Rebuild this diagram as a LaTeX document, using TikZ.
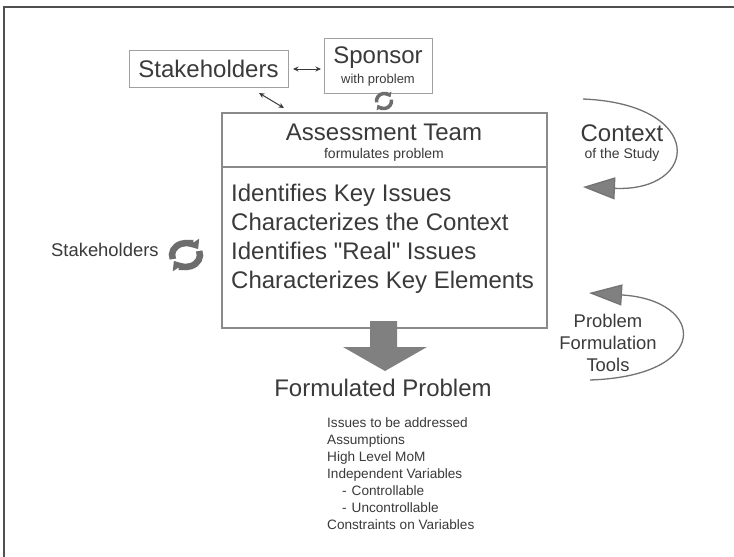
\documentclass[tikz,border=0pt]{standalone}
\usepackage{fontspec}
\setmainfont{Liberation Sans}[Ligatures=TeXOff]
\usetikzlibrary{arrows.meta}
\definecolor{txt}{HTML}{3A3A3A}
\definecolor{boxline}{HTML}{A0A0A0}
\definecolor{teamline}{HTML}{8A8A8A}
\definecolor{fillgray}{HTML}{808080}
\definecolor{frameline}{HTML}{505050}
\tikzset{
  box/.style={draw=boxline, line width=1pt, inner sep=0pt},
  big/.style={font=\fontsize{24}{29}\selectfont, text=txt, inner sep=0pt},
  mid/.style={font=\fontsize{18.4}{22}\selectfont, text=txt, inner sep=0pt},
  small/.style={font=\fontsize{14}{17}\selectfont, text=txt, inner sep=0pt},
  tiny/.style={font=\fontsize{13.6}{17}\selectfont, text=txt, inner sep=0pt},
  dbl/.style={{Stealth[length=5.5pt,width=5pt]}-{Stealth[length=5.5pt,width=5pt]}, line width=1pt, draw=txt},
  loopline/.style={draw=fillgray!90!black, line width=1.3pt},
  cyc/.style={draw=fillgray!85!black, line cap=butt},
}
\begin{document}
\begin{tikzpicture}[x=1pt,y=-1pt]
\useasboundingbox (0,0) rectangle (734,557);
\fill[white] (0,0) rectangle (734,557);
% frame lines
\draw[frameline, line width=2pt] (3,6.5) -- (734,6.5);
\draw[frameline, line width=2pt] (4,6) -- (4,557);

% top boxes
\node[box, minimum width=159pt, minimum height=37pt] (stk) at (208.5,68.5) {};
\node[big] at (stk.center) {Stakeholders};
\node[box, minimum width=108pt, minimum height=55pt] (spo) at (378,65.5) {};
\node[big] at (378,58) {Sponsor};
\node[font=\fontsize{13}{15}\selectfont, text=txt, inner sep=0pt] at (378,80) {with problem};

\coordinate (a1) at (293,69);
\coordinate (a2) at (321,69);
\draw[dbl] (a1) -- (a2);
\coordinate (d1) at (259,93);
\coordinate (d2) at (284,108);
\draw[dbl] (d1) -- (d2);

% small cycle icon under sponsor
\begin{scope}[shift={(384,101)}]
  \draw[cyc, line width=3.5pt, -{Triangle[length=4.5pt,width=7pt]}] (170:7.5) arc (170:330:7.5);
  \draw[cyc, line width=3.5pt, -{Triangle[length=4.5pt,width=7pt]}] (350:7.5) arc (350:510:7.5);
\end{scope}

% assessment team box
\node[draw=teamline, line width=1.2pt, minimum width=325pt, minimum height=215pt, inner sep=0pt] (team) at (384.5,220.5) {};
\draw[teamline, line width=1.2pt] (team.west |- 0,167) -- (team.east |- 0,167);
\node[big] at (384,132) {Assessment Team};
\node[small] at (384,155) {formulates problem};
\node[big, anchor=north west, align=left] (items) at (231,184) {Identifies Key Issues\\Characterizes the Context\\Identifies "Real" Issues\\Characterizes Key Elements};

% big down arrow
\fill[fillgray] (370,321) -- (397,321) -- (397,347) -- (427,347) -- (385,371) -- (343,347) -- (370,347) -- cycle;

% formulated problem
\node[big] (fp) at (383,388) {Formulated Problem};
\node[tiny, anchor=north west, align=left] (list) at (327,417) {Issues to be addressed\\Assumptions\\High Level MoM\\Independent Variables\\\hspace*{15pt}-\hspace{5pt}Controllable\\\hspace*{15pt}-\hspace{5pt}Uncontrollable\\Constraints on Variables};

% context
\node[big] (ctx) at (622,133) {Context};
\node[small] (cts) at (622,155) {of the Study};
\coordinate (c1) at (583,99);
\coordinate (c2) at (583,187);
\draw[loopline, -{Triangle[length=32pt,width=22pt,fill=fillgray]}] (c1) .. controls (706,104) and (700,192) .. (c2);

% problem formulation tools
\node[mid, align=center] (pft) at (608,343) {Problem\\Formulation\\Tools};
\coordinate (p1) at (590,380);
\coordinate (p2) at (589,293);
\draw[loopline, -{Triangle[length=33pt,width=21pt,fill=fillgray]}] (p1) .. controls (712,376) and (706,300) .. (p2);

% left stakeholders with cycle
\node[mid, anchor=west] (stk2) at (51,250) {Stakeholders};
\begin{scope}[shift={(186,255)}, yscale=0.85]
  \draw[cyc, line width=6.5pt, -{Triangle[length=8pt,width=13pt]}] (160:14) arc (160:330:14);
  \draw[cyc, line width=6.5pt, -{Triangle[length=8pt,width=13pt]}] (340:14) arc (340:510:14);
\end{scope}
\end{tikzpicture}
\end{document}
